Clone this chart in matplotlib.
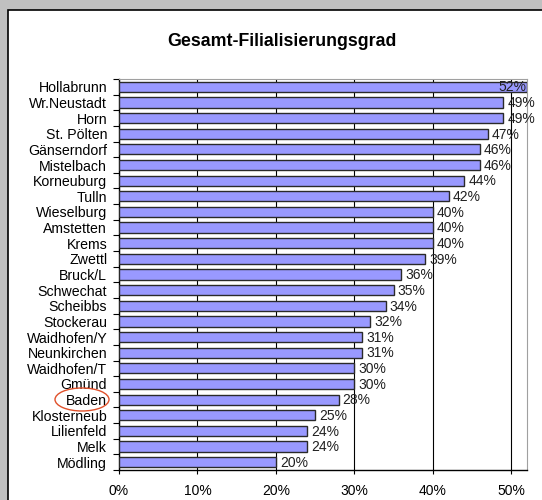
import numpy as np
import matplotlib
matplotlib.use("Agg")
from matplotlib import pyplot as plt
from matplotlib.patches import Rectangle, Ellipse

# data (top to bottom)
orte = ["Hollabrunn", "Wr.Neustadt", "Horn", "St. Pölten", "Gänserndorf", "Mistelbach",
        "Korneuburg", "Tulln", "Wieselburg", "Amstetten", "Krems", "Zwettl", "Bruck/L",
        "Schwechat", "Scheibbs", "Stockerau", "Waidhofen/Y", "Neunkirchen", "Waidhofen/T",
        "Gmünd", "Baden", "Klosterneub", "Lilienfeld", "Melk", "Mödling"]
werte = [52, 49, 49, 47, 46, 46, 44, 42, 40, 40, 40, 39, 36, 35, 34, 32, 31, 31, 30, 30,
         28, 25, 24, 24, 20]
x_ticks = [0, 10, 20, 30, 40, 50]

plt.rcParams['font.family'] = ['Liberation Sans', 'DejaVu Sans']

fig = plt.figure(figsize=(5.42, 5.0), dpi=100, facecolor='#c0c0c0')
W, H = 542, 500

# white chart panel
fig.patches.append(Rectangle((8 / W, -0.01), 1.0, 1 - 10 / H + 0.01, transform=fig.transFigure,
                             facecolor='white', edgecolor='black', linewidth=1.2, zorder=-5))

ax = fig.add_axes([119 / W, 1 - 470 / H, (527 - 119) / W, (470 - 79) / H])
ax.set_facecolor('white')

y = np.arange(len(orte))
ax.barh(y, werte, height=0.65, color='#9999ff', edgecolor='#2a2a2a', linewidth=1.0, zorder=3)

for yi, v in zip(y, werte):
    if v >= 52:
        ax.text(v - 0.1, yi + 0.02, f"{v}%", ha='right', va='center', fontsize=10,
                color='#202020', zorder=4)
    else:
        ax.text(v + 0.5, yi + 0.05, f"{v}%", ha='left', va='center', fontsize=10,
                color='#202020', zorder=4)

ax.set_xlim(0, 52)
ax.set_ylim(len(orte) - 0.5, -0.5)
ax.set_xticks(x_ticks)
ax.set_xticklabels([f"{t}%" for t in x_ticks], fontsize=10)
ax.set_yticks(y)
ax.set_yticklabels(orte, fontsize=10.2)
ax.tick_params(axis='y', length=0, pad=8.5)
ax.set_yticks(np.arange(-0.5, len(orte), 1), minor=True)
ax.tick_params(axis='y', which='minor', length=4, direction='out', width=0.8)
ax.tick_params(axis='x', length=3, direction='out', width=0.8, pad=7)

ax.grid(axis='x', color='black', linewidth=0.8, zorder=1)
ax.set_axisbelow(True)
for s in ['top', 'right']:
    ax.spines[s].set_color('#a0a0a0')
    ax.spines[s].set_linewidth(0.8)
for s in ['left', 'bottom']:
    ax.spines[s].set_color('black')
    ax.spines[s].set_linewidth(1.0)

fig.text(282 / W, 1 - 42 / H, "Gesamt-Filialisierungsgrad", ha='center', va='center',
         fontsize=12.8, fontweight='bold')

# red circle around Baden
fig.patches.append(Ellipse((82 / W, 1 - 399.5 / H), 54 / W, 23 / H, transform=fig.transFigure,
                           fill=False, edgecolor='#e0502a', linewidth=1.0, zorder=5))

fig.savefig("out.png", dpi=100, facecolor=fig.get_facecolor())
